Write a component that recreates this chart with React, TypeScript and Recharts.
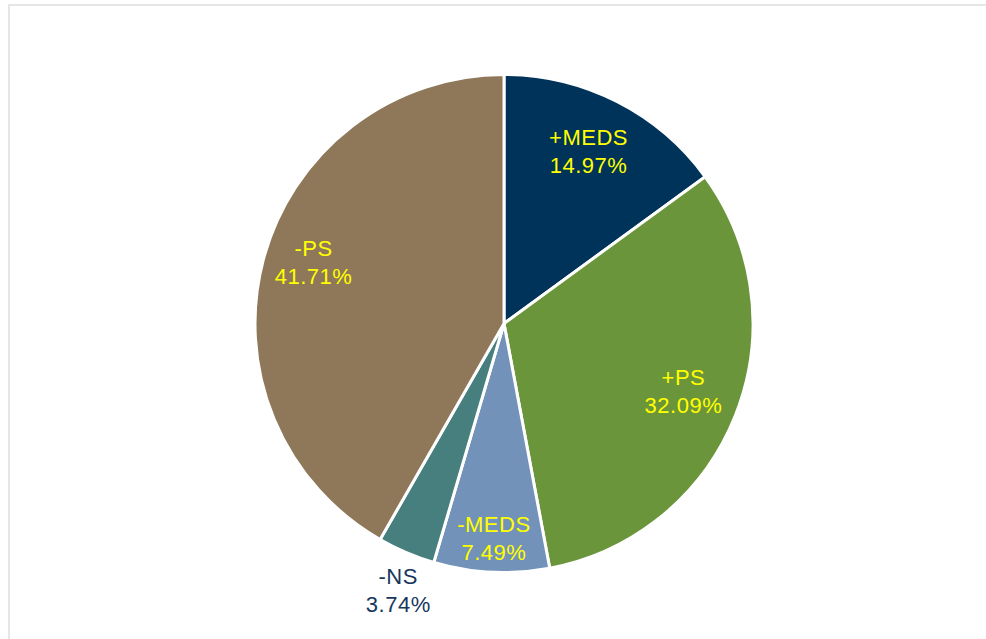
import React from 'react';
import { PieChart, Pie, Cell } from 'recharts';

const categories = ['+MEDS', '+PS', '-MEDS', '-NS', '-PS'];
const shares = [14.97, 32.09, 7.49, 3.74, 41.71];

const COLORS = ['#003359', '#6b953b', '#7392ba', '#467f7e', '#8f7859'];
// label placement: fraction of outer radius and a small angle nudge (degrees)
const LABEL_RADIUS = [0.773, 0.77, 0.864, 1.153, 0.804];
const LABEL_ANGLE_SHIFT = [0.9, 1.0, 0.2, 1.5, -3.0];
const LABEL_COLORS = ['#ffff00', '#ffff00', '#ffff00', '#17375e', '#ffff00'];

const data = categories.map((name, i) => ({ name, value: shares[i] }));

const RADIAN = Math.PI / 180;

const renderLabel = (props: any) => {
  const { cx, cy, midAngle, outerRadius, index, name, value } = props;
  const r = outerRadius * LABEL_RADIUS[index];
  const a = (midAngle + LABEL_ANGLE_SHIFT[index]) * RADIAN;
  const x = cx + r * Math.cos(-a);
  const y = cy + r * Math.sin(-a);
  return (
    <text
      x={x}
      y={y}
      fill={LABEL_COLORS[index]}
      textAnchor="middle"
      fontSize={22}
      letterSpacing={0.5}
      fontFamily="'Liberation Sans', Arial, sans-serif"
    >
      <tspan x={x} dy={-6}>{name}</tspan>
      <tspan x={x} dy={28}>{value.toFixed(2)}%</tspan>
    </text>
  );
};

const App = () => {
  return (
    <div
      style={{
        position: 'absolute',
        left: 8,
        top: 4,
        width: 990,
        height: 650,
        border: '2px solid #e6e6e6',
        background: '#ffffff',
      }}
    >
      <PieChart width={990} height={650} margin={{ top: 0, right: 0, bottom: 0, left: 0 }}>
        <Pie
          data={data}
          dataKey="value"
          nameKey="name"
          cx={494}
          cy={317.5}
          outerRadius={249}
          startAngle={90}
          endAngle={-270}
          stroke="#ffffff"
          strokeWidth={3}
          labelLine={false}
          label={renderLabel}
          isAnimationActive={false}
        >
          {data.map((entry, index) => (
            <Cell key={`cell-${index}`} fill={COLORS[index]} />
          ))}
        </Pie>
      </PieChart>
    </div>
  );
};

export default App;
